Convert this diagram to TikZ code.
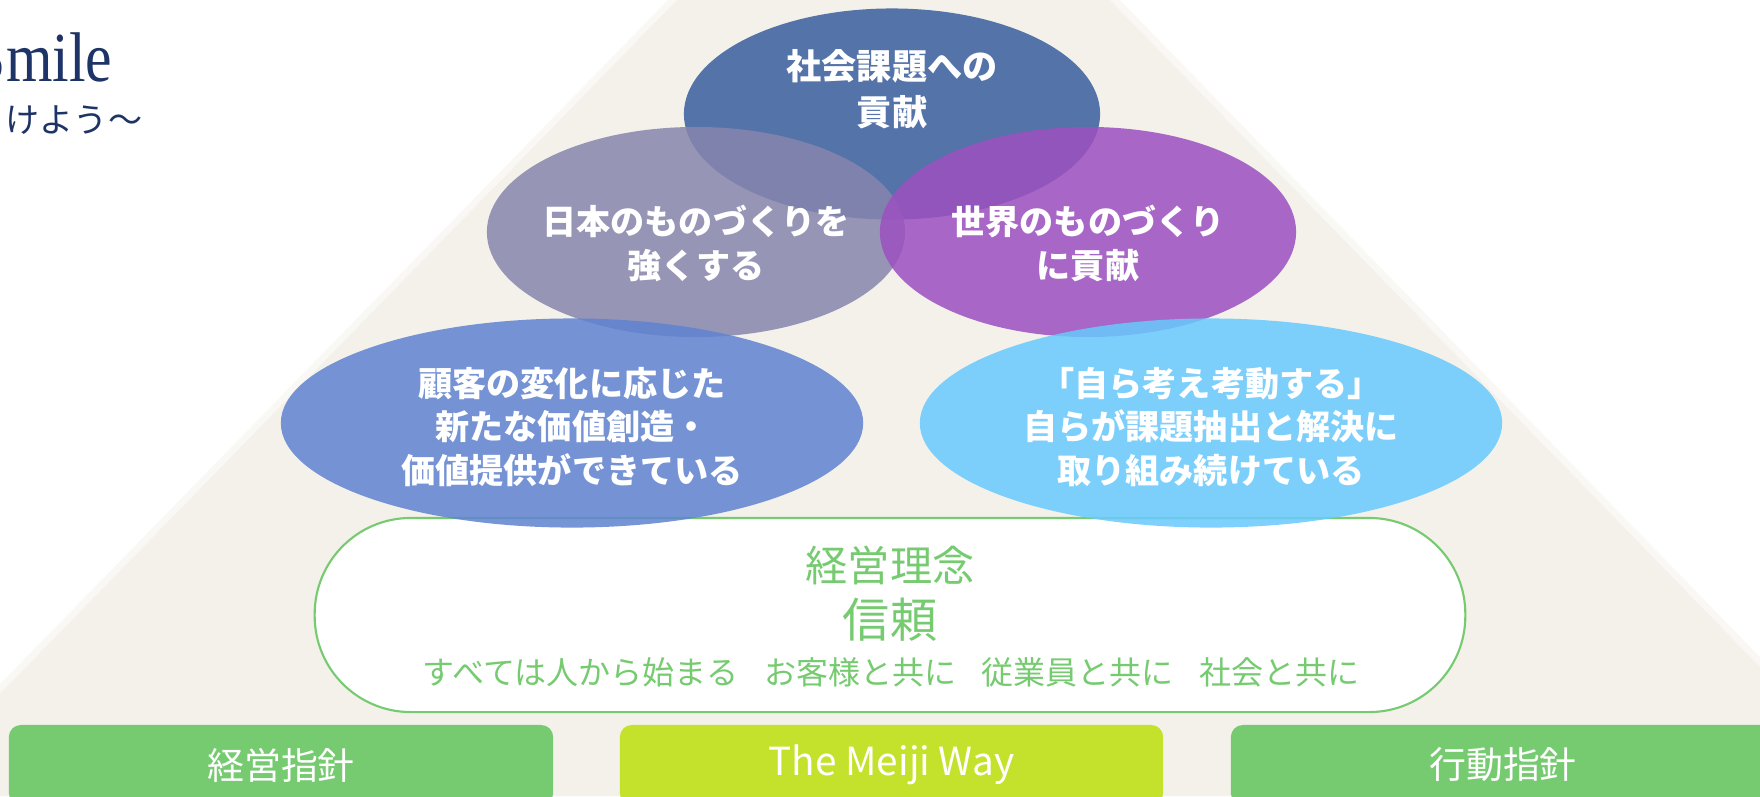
\documentclass[tikz,border=0pt]{standalone}
\usepackage{fontspec}
\setmainfont{Noto Sans CJK JP}
\newfontfamily\smilefont[FakeStretch=0.85]{Liberation Serif}
\usepackage{tikz}
\usetikzlibrary{shapes,positioning}
\usepackage{xcolor}
\definecolor{mjbeige}{RGB}{243,241,234}
\definecolor{mjhalo}{RGB}{249,248,245}
\definecolor{mjnavy}{RGB}{31,52,102}
\definecolor{mjslate}{RGB}{57,94,158}
\definecolor{mjlavender}{RGB}{134,133,173}
\definecolor{mjviolet}{RGB}{156,80,192}
\definecolor{mjblue}{RGB}{95,131,209}
\definecolor{mjsky}{RGB}{104,202,254}
\definecolor{mjgreen}{RGB}{118,203,112}
\definecolor{mjlime}{RGB}{196,226,44}
\tikzstyle{goal} = [ellipse, inner sep=0pt, fill opacity=0.85]
\tikzstyle{goaltext} = [text=white, align=center, font=\bfseries\fontsize{9.7}{12.5}\selectfont]
\tikzstyle{philo} = [rectangle, rounded corners=0.96cm, minimum width=11.5cm, minimum height=1.94cm, draw=mjgreen, fill=white, line width=0.6pt]
\tikzstyle{philotext} = [text=mjgreen, inner sep=0pt]
\tikzstyle{pillar} = [rectangle, rounded corners=0.12cm, minimum height=0.8cm, text=white, font=\fontsize{10.5}{12}\selectfont]

\begin{document}
\begin{tikzpicture}[x=0.01cm, y=-0.01cm]
\useasboundingbox (0,0) rectangle (1760,796);
\clip (0,0) rectangle (1760,796);
% Pyramid backdrop
\fill[mjhalo] (0,684) -- (668,0) -- (1120,0) -- (1760,657) -- (1760,796) -- (0,796) -- cycle;
\fill[mjbeige] (0,694) -- (677,0) -- (1110,0) -- (1760,667) -- (1760,796) -- (0,796) -- cycle;

% Slogan (cut at the left edge)
\node (smile) [anchor=base east, inner sep=0pt, text=mjnavy, font=\smilefont\fontsize{20}{22}\selectfont] at (113,81) {Smile};
\node (smilesub) [anchor=west, inner sep=0pt, text=mjnavy, font=\fontsize{9.7}{12}\selectfont] at (5,120) {けよう〜};

% Corporate philosophy
\node (philosophy) [philo] at (890,615) {};
\node (creed) [philotext, font=\fontsize{12}{14}\selectfont] at (890,565) {経営理念};
\node (trust) [philotext, font=\fontsize{13.4}{16}\selectfont] at (890,620) {信頼};
\node (pledge) [philotext, font=\fontsize{9.1}{11}\selectfont] at (891,672) {すべては人から始まる\hspace{0.8em}お客様と共に\hspace{0.8em}従業員と共に\hspace{0.8em}社会と共に};

% Three pillars
\node (policy) [pillar, fill=mjgreen, minimum width=5.44cm] at (281,765) {経営指針};
\node (meijiway) [pillar, fill=mjlime, minimum width=5.43cm, font=\fontsize{11}{12}\selectfont] at (891.5,765) {The Meiji Way};
\node (conduct) [pillar, fill=mjgreen, minimum width=5.44cm] at (1503,765) {行動指針};

% Goals
\node (social) [goal, fill=mjslate, minimum width=4.16cm, minimum height=2.11cm] at (892,114) {};
\node (japan) [goal, fill=mjlavender, minimum width=4.18cm, minimum height=2.10cm] at (696,232) {};
\node (world) [goal, fill=mjviolet, minimum width=4.16cm, minimum height=2.10cm] at (1088,232) {};
\node (customer) [goal, fill=mjblue, minimum width=5.82cm, minimum height=2.09cm] at (572,423) {};
\node (selfdrive) [goal, fill=mjsky, minimum width=5.82cm, minimum height=2.09cm] at (1211,423) {};

\node (socialtxt) [goaltext, font=\bfseries\fontsize{10}{13}\selectfont] at ([yshift=0.25cm]social.center) {社会課題への\\貢献};
\node (japantxt) [goaltext] at ([yshift=-0.11cm]japan.center) {日本のものづくりを\\強くする};
\node (worldtxt) [goaltext] at ([yshift=-0.11cm]world.center) {世界のものづくり\\に貢献};
\node (customertxt) [goaltext] at ([yshift=-0.04cm]customer.center) {顧客の変化に応じた\\新たな価値創造・\\価値提供ができている};
\node (selfdrivetxt) [goaltext] at ([yshift=-0.04cm]selfdrive.center) {「自ら考え考動する」\\自らが課題抽出と解決に\\取り組み続けている};
\end{tikzpicture}
\end{document}
